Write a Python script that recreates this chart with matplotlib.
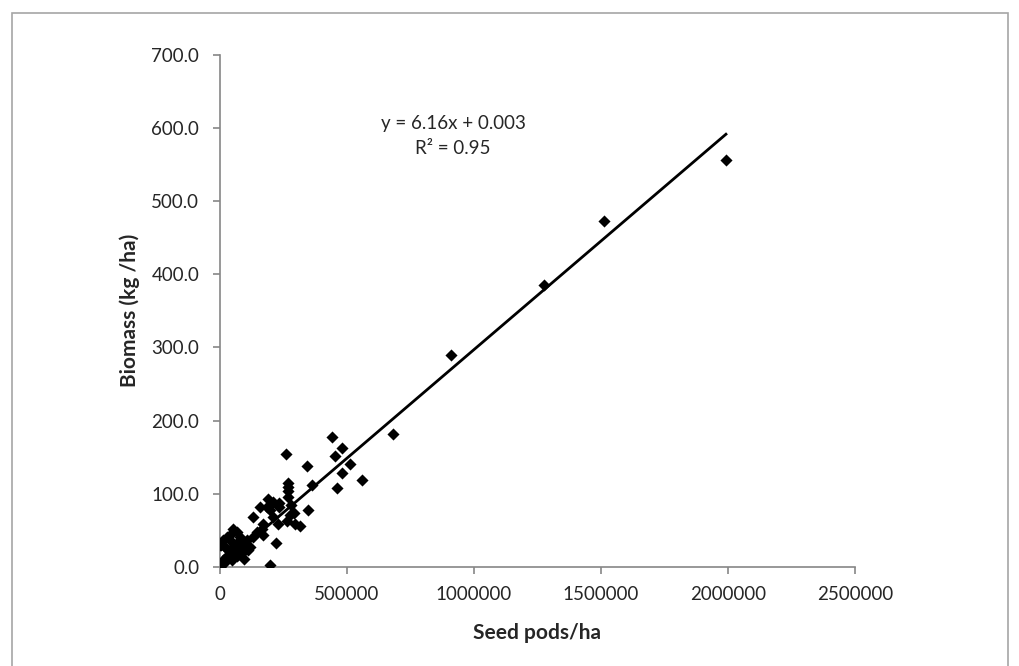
import matplotlib.pyplot as plt
from matplotlib.patches import Rectangle

# seed pods per ha vs biomass (kg/ha)
seed_pods = [1992000, 1513000, 1274000, 910000, 682000,
             440000, 481000, 258000, 453000, 512000, 341000, 481000, 560000, 266000, 361000,
             459000, 266000, 269000, 269000, 190000, 210000, 232000, 157000, 232000, 278000,
             184000, 348000, 293000, 276000, 197000, 131000, 210000, 230000, 262000, 315000,
             295000, 171000, 164000, 147000, 171000, 131000, 220000, 197000, 96000, 92000,
             118000, 111000, 52000, 66000, 46000, 26000, 79000, 13000, 39000, 66000,
             0, 3000, 20000, 52000, 85000, 92000, 33000, 72000, 52000, 26000,
             46000, 13000, 6500, 0, 20000, 66000, 105000]
biomass = [556, 473, 386, 289, 182,
           177, 163, 154, 151, 141, 138, 128, 118, 115, 112,
           108, 109, 103, 96, 93, 89, 87, 81, 82, 84,
           82, 78, 73, 71, 78, 68, 68, 59, 62, 56,
           59, 59, 52, 48, 43, 41, 32, 2, 11, 20,
           27, 23, 52, 48, 46, 41, 41, 36, 36, 32,
           30, 30, 27, 27, 30, 32, 23, 20, 16, 14,
           9, 9, 4.5, 0, 7, 14, 36]

# trendline as drawn (per seed pod)
trend_slope = 2.97e-4
trend_intercept = 0.003

x_ticks = [0, 500000, 1000000, 1500000, 2000000, 2500000]
y_ticks = [0, 100, 200, 300, 400, 500, 600, 700]

plt.rcParams['font.family'] = ['Lato', 'DejaVu Sans']

fig = plt.figure(figsize=(10.2, 6.66), dpi=100)
ax = fig.add_axes([0.2157, 0.1491, 0.6225, 0.7683])

ax.scatter(seed_pods, biomass, marker='D', s=38, color='black', zorder=3, linewidths=0)

x0, x1 = min(seed_pods), max(seed_pods)
ax.plot([x0, x1], [trend_intercept + trend_slope * x0, trend_intercept + trend_slope * x1],
        color='black', lw=2, zorder=2)

ax.set_xlim(0, 2500000)
ax.set_ylim(0, 700)
ax.set_xticks(x_ticks)
ax.set_xticklabels([str(v) for v in x_ticks])
ax.set_yticks(y_ticks)
ax.set_yticklabels([f'{v:.1f}' for v in y_ticks])

for side in ['top', 'right']:
    ax.spines[side].set_visible(False)
for side in ['left', 'bottom']:
    ax.spines[side].set_color('#868686')
    ax.spines[side].set_linewidth(1.2)
ax.tick_params(axis='both', direction='out', length=5, width=1.2, color='#868686',
               labelsize=13.5, labelcolor='#262626')
ax.tick_params(axis='x', pad=9)
ax.tick_params(axis='y', pad=10)

ax.set_xlabel('Seed pods/ha', fontsize=15, fontweight='bold', color='#262626', labelpad=14)
ax.set_ylabel('Biomass (kg /ha)', fontsize=15, fontweight='bold', color='#262626', labelpad=8)

ax.text(453 / 1020, 1 - 123 / 666, 'y = 6.16x + 0.003', transform=fig.transFigure,
        ha='center', va='center', fontsize=13.5, color='#262626')
ax.text(453 / 1020, 1 - 149 / 666, 'R² = 0.95', transform=fig.transFigure,
        ha='center', va='center', fontsize=13.5, color='#262626')

# outer chart border
fig.patches.append(Rectangle((12 / 1020, -0.05), 996 / 1020, 1.05 - 13 / 666,
                             transform=fig.transFigure, fill=False,
                             edgecolor='#a6a6a6', lw=1.2))

plt.savefig('out.png', dpi=100)
